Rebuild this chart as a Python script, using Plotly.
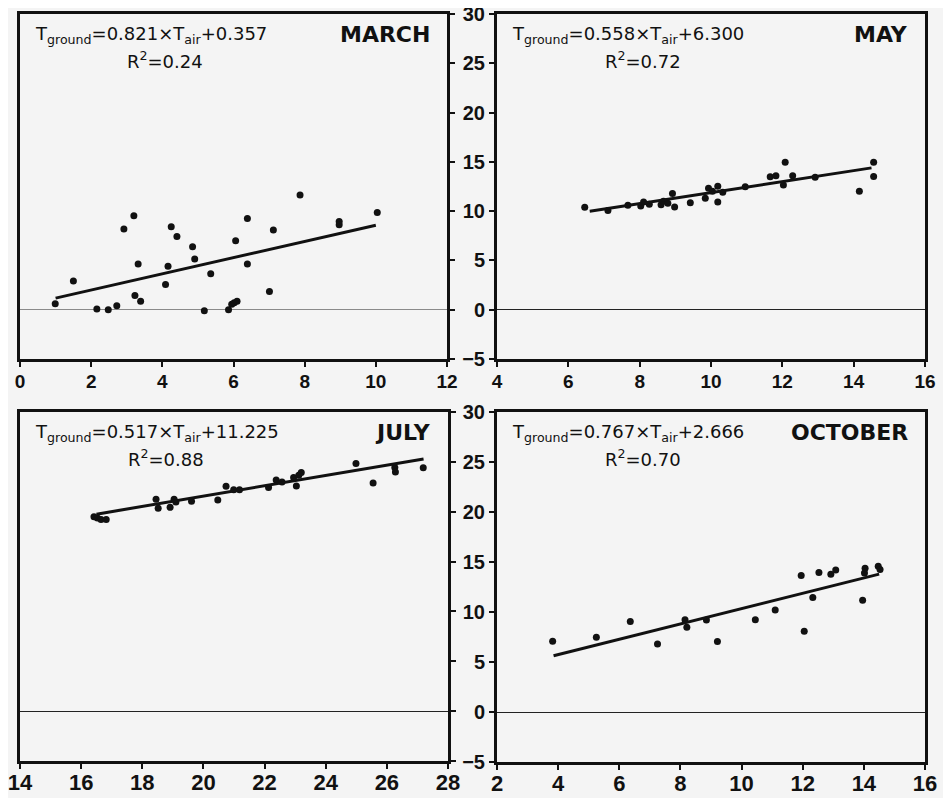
import plotly.graph_objects as go

# page has an 8px body margin, so the figure is sized to fit inside the window
OFF = 8
W, H = 951 - OFF, 798 - OFF

# ---------------- data ----------------
months = ["MARCH", "MAY", "JULY", "OCTOBER"]

march_tair = [0.99, 1.50, 2.16, 2.48, 2.72, 2.92, 3.20, 3.23, 3.32, 3.39, 4.09, 4.16, 4.25, 4.41,
              4.85, 4.91, 5.36, 5.18, 5.86, 5.95, 6.02, 6.10, 6.06, 6.39, 6.39, 7.01, 7.12, 7.87,
              8.97, 8.97, 10.04]
march_tground = [0.61, 2.91, 0.07, 0.0, 0.40, 8.18, 9.53, 1.45, 4.63, 0.85, 2.57, 4.40, 8.42, 7.44,
                 6.39, 5.14, 3.65, -0.10, 0.0, 0.55, 0.70, 0.85, 7.00, 9.26, 4.63, 1.86, 8.08, 11.63,
                 8.96, 8.62, 9.87]

may_tair = [6.46, 7.11, 7.67, 8.03, 8.11, 8.27, 8.60, 8.67, 8.79, 8.92, 8.98, 9.42, 9.84, 9.93,
            10.04, 10.19, 10.19, 10.33, 10.96, 11.66, 11.82, 12.03, 12.08, 12.29, 12.92, 14.16,
            14.56, 14.56]
may_tground = [10.40, 10.07, 10.60, 10.53, 10.93, 10.70, 10.66, 11.00, 10.80, 11.79, 10.43, 10.86,
               11.32, 12.32, 12.02, 12.52, 10.93, 11.92, 12.48, 13.48, 13.60, 12.65, 14.97, 13.58,
               13.44, 12.02, 14.97, 13.51]

july_tair = [16.42, 16.53, 16.65, 16.82, 18.45, 18.52, 18.91, 19.04, 19.10, 19.61, 20.47, 20.74,
             20.99, 21.18, 22.13, 22.38, 22.57, 22.95, 23.04, 23.12, 23.20, 24.99, 25.55, 26.26,
             26.28, 27.19]
july_tground = [19.50, 19.36, 19.23, 19.23, 21.24, 20.34, 20.44, 21.24, 20.97, 21.04, 21.17, 22.55,
                22.21, 22.21, 22.42, 23.19, 22.99, 23.42, 22.58, 23.66, 23.93, 24.83, 22.89, 24.43,
                23.99, 24.40]

oct_tair = [3.82, 5.25, 6.36, 7.25, 8.15, 8.21, 8.85, 9.21, 10.45, 11.10, 11.95, 12.05, 12.33,
            12.53, 12.92, 13.08, 13.96, 14.02, 14.04, 14.47, 14.53]
oct_tground = [7.07, 7.47, 9.06, 6.80, 9.23, 8.48, 9.19, 7.04, 9.23, 10.20, 13.64, 8.08, 11.45,
               13.94, 13.77, 14.21, 11.18, 13.91, 14.38, 14.58, 14.24]

slopes = [0.821, 0.558, 0.517, 0.767]
intercepts = [0.357, 6.300, 11.225, 2.666]
r2_values = ["0.24", "0.72", "0.88", "0.70"]
fit_x_ranges = [(1.0, 10.0), (6.6, 14.5), (16.5, 27.2), (3.85, 14.5)]

x_ranges = [(0, 12), (4, 16), (14, 28), (2, 16)]
y_range = (-5, 30)
y_tickvals = [-5, 0, 5, 10, 15, 20, 25, 30]

xs = [march_tair, may_tair, july_tair, oct_tair]
ys = [march_tground, may_tground, july_tground, oct_tground]

# ---------------- layout geometry (window pixels) ----------------
boxes = [(20, 447, 14, 359), (497, 925, 14, 359), (20, 448, 412, 761), (497, 925, 412, 762)]

BG = "#f4f4f4"
INK = "#111111"
FONT = "Liberation Sans, Arial, sans-serif"
NARROW = "Liberation Sans Narrow, Arial Narrow, Liberation Sans, sans-serif"
TXT_FONT = "DejaVu Sans, Liberation Sans, sans-serif"

fig = go.Figure()
layout = dict(
    width=W, height=H, autosize=False,
    margin=dict(l=0, r=0, t=0, b=0, pad=0, autoexpand=False),
    paper_bgcolor=BG, plot_bgcolor=BG, showlegend=False,
    font=dict(family=FONT, color=INK),
)
annotations = []

for i in range(4):
    sfx = "" if i == 0 else str(i + 1)
    xa, ya = "x" + sfx, "y" + sfx
    x0, x1, y0, y1 = boxes[i]
    left_panel = i in (0, 2)
    bottom_row = i in (2, 3)

    fig.add_trace(go.Scatter(x=xs[i], y=ys[i], mode="markers", xaxis=xa, yaxis=ya,
                             marker=dict(size=7, color=INK), hoverinfo="skip"))
    fx0, fx1 = fit_x_ranges[i]
    fig.add_trace(go.Scatter(x=[fx0, fx1],
                             y=[slopes[i] * fx0 + intercepts[i], slopes[i] * fx1 + intercepts[i]],
                             mode="lines", xaxis=xa, yaxis=ya,
                             line=dict(color=INK, width=3), hoverinfo="skip"))

    xfont = (dict(size=22, family=NARROW, color=INK, weight="bold") if bottom_row
             else dict(size=19, family=FONT, color=INK, weight="bold"))
    layout["xaxis" + sfx] = dict(
        domain=[(x0 - OFF) / W, (x1 - OFF) / W], anchor=ya, range=list(x_ranges[i]), dtick=2,
        automargin=False, ticklabeloverflow="allow",
        ticklabelstandoff=-5 if bottom_row else -2,
        showline=True, linewidth=3, linecolor=INK, mirror=True,
        showgrid=False, zeroline=False, ticks="outside", ticklen=5, tickwidth=2,
        tickcolor=INK, tickfont=xfont,
    )
    layout["yaxis" + sfx] = dict(
        domain=[1 - (y1 - OFF) / H, 1 - (y0 - OFF) / H], anchor=xa, range=list(y_range),
        automargin=False, ticklabeloverflow="allow",
        tickvals=y_tickvals, side="right" if left_panel else "left",
        showticklabels=not left_panel,
        showline=True, linewidth=3, linecolor=INK, mirror=True,
        showgrid=False, zeroline=True,
        zerolinecolor="#8a8a8a" if i == 0 else "#222222", zerolinewidth=1,
        ticks="outside", ticklen=5, tickwidth=2, tickcolor=INK,
        tickfont=dict(size=20, family=FONT, color=INK, weight="bold"),
    )

    xd, yd = xa + " domain", ya + " domain"
    annotations.append(dict(
        x=0.03, y=0.94, xref=xd, yref=yd, xanchor="left", yanchor="middle", showarrow=False,
        text=f"T<sub>ground</sub>={slopes[i]:.3f}×T<sub>air</sub>+{intercepts[i]:.3f}",
        font=dict(size=18, family=TXT_FONT, color=INK)))
    annotations.append(dict(
        x=0.34, y=0.868, xref=xd, yref=yd, xanchor="center", yanchor="middle", showarrow=False,
        text=f"R<sup>2</sup>={r2_values[i]}",
        font=dict(size=18, family=TXT_FONT, color=INK)))
    annotations.append(dict(
        x=0.965, y=0.94, xref=xd, yref=yd, xanchor="right", yanchor="middle", showarrow=False,
        text=f"<b>{months[i]}</b>",
        font=dict(size=22, family=TXT_FONT, color=INK)))

layout["annotations"] = annotations
fig.update_layout(**layout)
fig.write_html("out.html")
